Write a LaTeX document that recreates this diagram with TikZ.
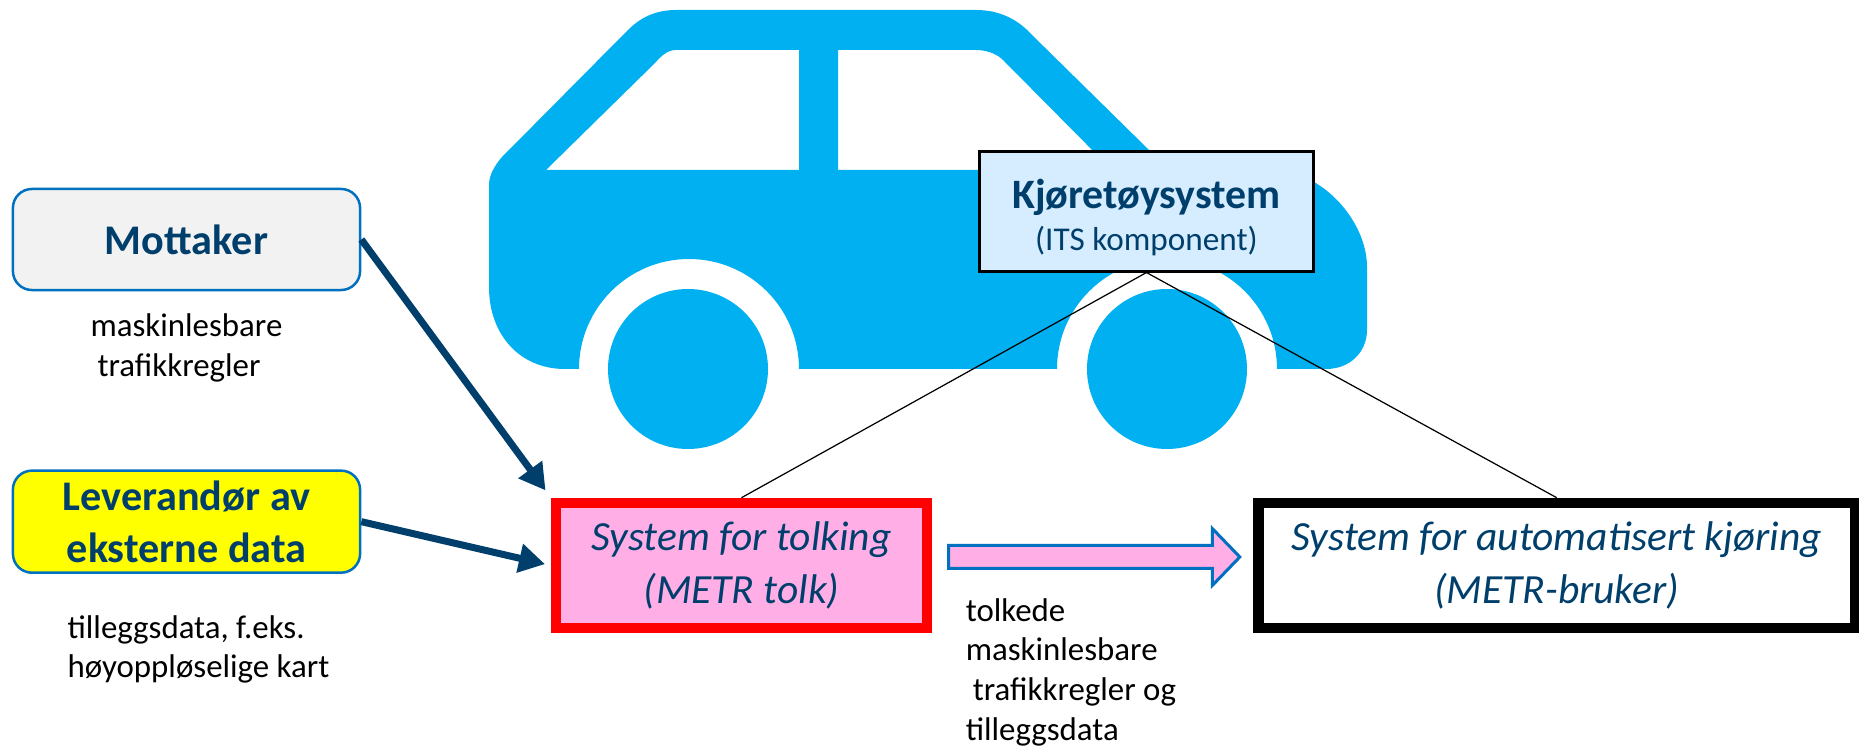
\documentclass[tikz,border=0pt]{standalone}
\usepackage{fontspec}
\setmainfont{Carlito}
\usetikzlibrary{positioning,arrows.meta,shapes.arrows}
\definecolor{bilblaa}{HTML}{00B0F0}
\definecolor{kant}{HTML}{0070C0}
\definecolor{marine}{HTML}{003F6B}
\definecolor{rosa}{HTML}{FFAEE6}
\definecolor{lysblaa}{HTML}{D6ECFF}
\definecolor{lysgraa}{HTML}{F2F2F2}
\definecolor{gul}{HTML}{FFFF00}
\tikzset{
  aktor/.style={rectangle,rounded corners=0.19cm,draw=kant,line width=0.025cm,minimum width=3.47cm,minimum height=1.01cm,inner sep=0pt,align=center,text=marine,font=\fontsize{12}{14.8}\selectfont\bfseries},
  system/.style={rectangle,line width=0.105cm,minimum height=1.25cm,inner sep=0pt,align=center,text=marine,font=\fontsize{11.8}{15}\selectfont\itshape},
  tekst/.style={inner sep=0pt,align=left,font=\fontsize{9.35}{11.2}\selectfont},
  datapil/.style={-{Triangle[length=0.26cm,width=0.28cm]},line width=0.07cm,draw=marine},
  tynn/.style={line width=0.35pt}
}
\begin{document}
\begin{tikzpicture}[x=0.01cm,y=-0.01cm]
    \useasboundingbox (0,0) rectangle (1859,746);
    % bilen
    \fill[bilblaa,even odd rule]
    (676,10) -- (976,10) .. controls (1000,10) and (1018,20) .. (1030,33) -- (1149,150) -- (1240,165) -- (1314,182)
    .. controls (1345,200) and (1367,235) .. (1367,267) -- (1367,330) .. controls (1367,352) and (1350,369) .. (1326,369)
    -- (1277,369) arc[start angle=0,end angle=-180,radius=110] -- (799,369) arc[start angle=0,end angle=-180,radius=110]
    -- (565,369) .. controls (520,369) and (489,335) .. (489,287) -- (489,185) .. controls (489,175) and (495,165) .. (502,157)
    -- (628,30) .. controls (640,18) and (655,10) .. (676,10) -- cycle
    (546,170) -- (655,63) .. controls (662,55) and (668,50) .. (676,50) -- (799,50) -- (799,170) -- cycle
    (838,50) -- (976,50) .. controls (985,50) and (996,53) .. (1003,60) -- (1112,170) -- (838,170) -- cycle;
    \fill[bilblaa] (688,369) circle[radius=80];
    \fill[bilblaa] (1167,369) circle[radius=80];

    \node(mottaker)[aktor,fill=lysgraa] at (186.5,239.5) {Mottaker};
    \node(leverandor)[aktor,fill=gul,below=1.78cm of mottaker,minimum height=1.02cm] {Leverandør av\\eksterne data};
    \node(regeltekst)[tekst,below=0.22cm of mottaker] {maskinlesbare\\\hspace*{0.07cm}trafikkregler};
    \node(tilleggstekst)[tekst,below=0.41cm of leverandor,xshift=0.12cm,font=\fontsize{9.35}{11}\selectfont] {tilleggsdata, f.eks.\\høyoppløselige kart};

    \node(tolk)[system,draw=red,fill=rosa,minimum width=3.705cm] at (741.5,565.5) {System for tolking\\(METR tolk)};
    \node(bruker)[system,draw=black,fill=white,minimum width=5.96cm,right=3.21cm of tolk] {System for automatisert kjøring\\(METR-bruker)};
    \node(tolkpil)[single arrow,draw=kant,fill=rosa,line width=0.03cm,minimum height=2.91cm,minimum width=0.54cm,single arrow head extend=0.17cm,single arrow tip angle=92,single arrow head indent=0pt,inner xsep=0pt,inner ysep=0.1cm,right=0.15cm of tolk,yshift=0.085cm] {};
    \node(tolketekst)[tekst,below right=0.32cm and 0.33cm of tolk.east,font=\fontsize{9.35}{11.3}\selectfont] {tolkede\\maskinlesbare\\\hspace*{0.07cm}trafikkregler og\\tilleggsdata};

    \node(kjoretoy)[rectangle,draw=black,fill=lysblaa,line width=0.03cm,minimum width=3.33cm,minimum height=1.19cm,inner sep=0pt,align=center,text=marine] at (1146.5,211.5) {\rule{0pt}{0.42cm}\fontsize{11.9}{12.2}\selectfont\bfseries Kjøretøysystem\\\fontsize{9.45}{12.2}\selectfont (ITS komponent)};

    \draw[datapil,shorten >=0.09cm] (mottaker.east) -- (tolk.north west);
    \draw[datapil,shorten >=0.06cm] (leverandor.east) -- (tolk.west);
    \path[tynn,draw]
    (kjoretoy.south) -- (tolk.north)
    (kjoretoy.south) -- (bruker.north);
\end{tikzpicture}
\end{document}
